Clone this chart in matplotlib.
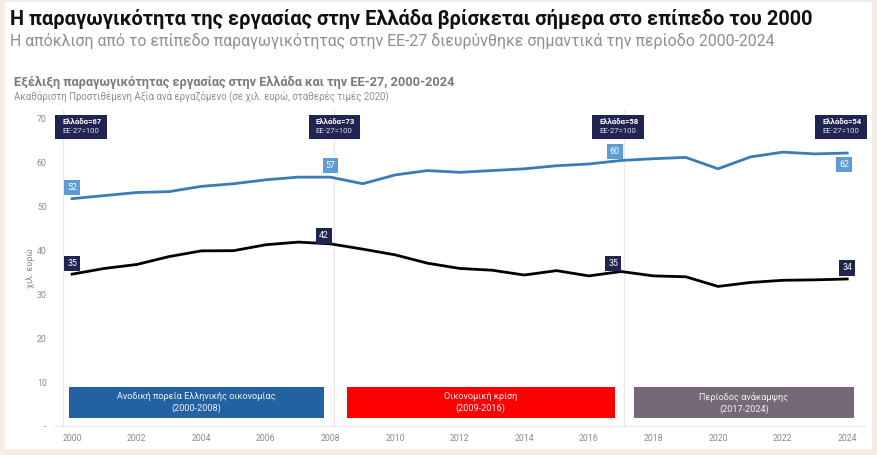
import matplotlib.pyplot as plt
from matplotlib.patches import Rectangle

plt.rcParams['font.family'] = ['Roboto', 'DejaVu Sans']

years = list(range(2000, 2025))
ee27 = [51.8, 52.5, 53.2, 53.4, 54.6, 55.2, 56.1, 56.7, 56.7, 55.2, 57.2, 58.2, 57.8,
        58.2, 58.6, 59.3, 59.7, 60.5, 60.9, 61.2, 58.6, 61.3, 62.4, 62.0, 62.2]
greece = [34.6, 35.9, 36.8, 38.6, 39.9, 39.95, 41.3, 41.9, 41.5, 40.3, 39.0, 37.1, 35.9,
          35.5, 34.4, 35.4, 34.2, 35.2, 34.2, 34.0, 31.8, 32.7, 33.2, 33.3, 33.5]

label_years = [2000, 2008, 2017, 2024]
ee27_labels = ["52", "57", "60", "62"]
greece_labels = ["35", "42", "35", "34"]
ratio_labels = ["Ελλάδα=67", "Ελλάδα=73", "Ελλάδα=58", "Ελλάδα=54"]

periods = ["Ανοδική πορεία Ελληνικής οικονομίας\n(2000-2008)",
           "Οικονομική κρίση\n(2009-2016)",
           "Περίοδος ανάκαμψης\n(2017-2024)"]
period_start = [1999.9, 2008.5, 2017.4]
period_end = [2007.8, 2016.8, 2024.2]
period_colors = ["#2262a3", "#fe0000", "#766977"]

BLUE = "#3b7bb8"
LBLUE = "#5e9cd3"
NAVY = "#1f2451"
GREY = "#8a8a8a"

fig = plt.figure(figsize=(8.77, 4.55), dpi=100)
fig.patch.set_facecolor("#f4ede7")
fig.patches.append(Rectangle((5 / 877, 1 - 449 / 455), 867 / 877, 447 / 455,
                             transform=fig.transFigure, facecolor="white",
                             edgecolor="none", zorder=-5))

fig.text(10 / 877, 1 - 19 / 455,
         "Η παραγωγικότητα της εργασίας στην Ελλάδα βρίσκεται σήμερα στο επίπεδο του 2000",
         fontsize=14.4, fontweight="bold", color="#111111", va="center")
fig.text(10 / 877, 1 - 41 / 455,
         "Η απόκλιση από το επίπεδο παραγωγικότητας στην ΕΕ-27 διευρύνθηκε σημαντικά την περίοδο 2000-2024",
         fontsize=11.45, color="#8f8f8f", va="center")
fig.text(14 / 877, 1 - 82 / 455,
         "Εξέλιξη παραγωγικότητας εργασίας στην Ελλάδα και την ΕΕ-27, 2000-2024",
         fontsize=9.15, fontweight="bold", color="#7a7a7a", va="center")
fig.text(14 / 877, 1 - 97 / 455,
         "Ακαθάριστη Προστιθέμενη Αξία ανά εργαζόμενο (σε χιλ. ευρώ, σταθερές τιμές 2020)",
         fontsize=6.9, color="#8f8f8f", va="center")

ax = fig.add_axes([55 / 877, 29 / 455, 810 / 877, 316 / 455])
ax.set_facecolor("none")
ax.set_xlim(1999.47, 2024.55)
ax.set_ylim(0, 72)

for s in ["top", "right", "left"]:
    ax.spines[s].set_visible(False)
ax.spines["bottom"].set_color("#e6e6e6")
ax.set_yticks([0, 10, 20, 30, 40, 50, 60, 70])
ax.set_yticklabels(["-", "10", "20", "30", "40", "50", "60", "70"])
ax.set_xticks(range(2000, 2025, 2))
ax.tick_params(length=0, labelsize=6.3, labelcolor=GREY, pad=6)
ax.set_ylabel("χιλ. ευρώ", fontsize=6.5, color=GREY, labelpad=1)

for xv in [1999.73, 2008.12, 2017.1]:
    ax.axvline(xv, color="#e8e8e8", lw=0.9, zorder=1)

ax.plot(years, ee27, color=BLUE, lw=2.0, zorder=3)
ax.plot(years, greece, color="black", lw=2.0, zorder=3)

# value labels
ee27_dy = [2.6, 2.7, 2.0, -2.7]
ee27_dx = [0, 0, -0.2, -0.1]
greece_dy = [2.5, 1.8, 1.9, 2.5]
greece_dx = [0, -0.2, -0.25, 0]
for i, yr in enumerate(label_years):
    v = ee27[years.index(yr)]
    ax.text(yr + ee27_dx[i], v + ee27_dy[i], ee27_labels[i], fontsize=6.3, color="white",
            ha="center", va="center",
            bbox=dict(boxstyle="square,pad=0.35", fc=LBLUE, ec="none"), zorder=5)
    g = greece[years.index(yr)]
    ax.text(yr + greece_dx[i], g + greece_dy[i], greece_labels[i], fontsize=6.3, color="white",
            ha="center", va="center",
            bbox=dict(boxstyle="square,pad=0.35", fc=NAVY, ec="none"), zorder=5)

# ratio boxes
box_x = [2000.28, 2008.12, 2016.9, 2023.8]
box_w, box_h, box_bottom = 1.6, 5.5, 65.4
for i, bx in enumerate(box_x):
    left = bx - box_w / 2
    ax.add_patch(Rectangle((left, box_bottom), box_w, box_h, facecolor=NAVY,
                           edgecolor="none", zorder=5, clip_on=False))
    ax.text(left + 0.22, 69.4, ratio_labels[i], fontsize=5.6, fontweight="bold",
            color="white", ha="left", va="center", zorder=6)
    ax.text(left + 0.22, 67.2, "ΕΕ-27=100", fontsize=5.6, color="#e0e0e8",
            ha="left", va="center", zorder=6)

# period bars
for i in range(len(periods)):
    ax.add_patch(Rectangle((period_start[i], 1.8), period_end[i] - period_start[i], 7.0,
                           facecolor=period_colors[i], edgecolor="none", zorder=2))
    ax.text((period_start[i] + period_end[i]) / 2, 5.3, periods[i], fontsize=6.6,
            color="#f2f2f2", ha="center", va="center", linespacing=1.3, zorder=3)

fig.savefig("out.png", dpi=100, facecolor=fig.get_facecolor())
